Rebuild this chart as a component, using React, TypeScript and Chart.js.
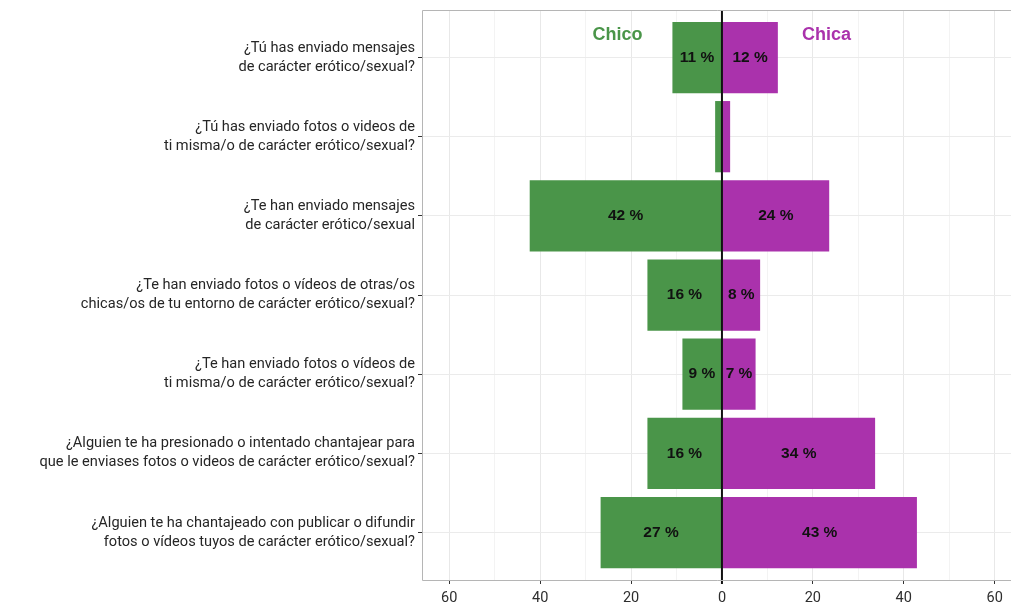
import React, { useEffect, useRef } from "react";
import { Chart, registerables } from "chart.js";

Chart.register(...registerables);

const categories: string[][] = [
  ["¿Tú has enviado mensajes", "de carácter erótico/sexual?"],
  ["¿Tú has enviado fotos o videos de", "ti misma/o de carácter erótico/sexual?"],
  ["¿Te han enviado mensajes", "de carácter erótico/sexual"],
  ["¿Te han enviado fotos o vídeos de otras/os", "chicas/os de tu entorno de carácter erótico/sexual?"],
  ["¿Te han enviado fotos o vídeos de", "ti misma/o de carácter erótico/sexual?"],
  ["¿Alguien te ha presionado o intentado chantajear para", "que le enviases fotos o videos de carácter erótico/sexual?"],
  ["¿Alguien te ha chantajeado con publicar o difundir", "fotos o vídeos tuyos de carácter erótico/sexual?"],
];

const chico: number[] = [10.9, 1.5, 42.3, 16.4, 8.7, 16.4, 26.7];
const chica: number[] = [12.3, 1.8, 23.6, 8.4, 7.4, 33.7, 42.9];

const xTicks: number[] = [-60, -50, -40, -30, -20, -10, 0, 10, 20, 30, 40, 50, 60];

const GREEN = "#4a9549";
const MAGENTA = "#aa32ac";

const labelPlugin = {
  id: "extras",
  afterDatasetsDraw(chart: any) {
    const { ctx, chartArea, scales } = chart;
    const xs = scales.x;
    const ys = scales.y;
    ctx.save();
    ctx.font = "bold 15.5px 'Liberation Sans', Arial, sans-serif";
    ctx.fillStyle = "#111";
    ctx.textAlign = "center";
    ctx.textBaseline = "middle";
    chart.data.datasets.forEach((ds: any, di: number) => {
      const meta = chart.getDatasetMeta(di);
      meta.data.forEach((bar: any, i: number) => {
        const v = Math.abs(ds.data[i].x);
        if (v < 3) return;
        const cx = (bar.x + bar.base) / 2;
        ctx.fillText(Math.round(v) + " %", cx, bar.y);
      });
    });
    ctx.font = "bold 18px 'Liberation Sans', Arial, sans-serif";
    ctx.fillStyle = GREEN;
    ctx.fillText("Chico", xs.getPixelForValue(-23), ys.getPixelForValue(-0.28));
    ctx.fillStyle = MAGENTA;
    ctx.fillText("Chica", xs.getPixelForValue(23), ys.getPixelForValue(-0.28));
    const x0 = xs.getPixelForValue(0);
    ctx.strokeStyle = "#111";
    ctx.lineWidth = 2;
    ctx.beginPath();
    ctx.moveTo(x0, chartArea.top);
    ctx.lineTo(x0, chartArea.bottom + 4);
    ctx.stroke();
    ctx.strokeStyle = "#b5b5b5";
    ctx.lineWidth = 1;
    ctx.beginPath();
    ctx.moveTo(chartArea.right + 2, chartArea.top + 0.5);
    ctx.lineTo(chartArea.left + 0.5, chartArea.top + 0.5);
    ctx.lineTo(chartArea.left + 0.5, chartArea.bottom + 0.5);
    ctx.lineTo(chartArea.right + 2, chartArea.bottom + 0.5);
    ctx.stroke();
    ctx.restore();
  },
};

export default function App() {
  const ref = useRef<HTMLCanvasElement | null>(null);
  useEffect(() => {
    if (!ref.current) return;
    const chart = new Chart(ref.current, {
      type: "bar",
      data: {
        datasets: [
          {
            label: "Chico",
            data: chico.map((v, i) => ({ x: -v, y: i })),
            backgroundColor: GREEN,
            borderWidth: 0,
          },
          {
            label: "Chica",
            data: chica.map((v, i) => ({ x: v, y: i })),
            backgroundColor: MAGENTA,
            borderWidth: 0,
          },
        ],
      },
      options: {
        indexAxis: "y",
        animation: false,
        responsive: true,
        maintainAspectRatio: false,
        layout: { padding: { top: 10, right: 0, bottom: 0, left: 0 } },
        datasets: { bar: { barPercentage: 0.9, categoryPercentage: 1 } },
        plugins: { legend: { display: false }, tooltip: { enabled: false } },
        scales: {
          x: {
            type: "linear",
            min: -66,
            max: 63.6,
            stacked: true,
            afterBuildTicks: (s: any) => {
              s.ticks = xTicks.map((v) => ({ value: v }));
            },
            afterFit: (s: any) => {
              s.height = 26;
            },
            border: { display: false },
            grid: {
              color: (c: any) => (c.tick && c.tick.value % 20 === 0 ? "#e8e8e8" : "#f3f3f3"),
              lineWidth: 1,
              tickLength: 4,
              tickColor: (c: any) => (c.tick && c.tick.value % 20 === 0 ? "#333" : "rgba(0,0,0,0)"),
            },
            ticks: {
              autoSkip: false,
              maxRotation: 0,
              padding: 6,
              color: "#2e2e2e",
              font: { family: "Roboto", size: 14.5 },
              callback: (v: any) => (Number(v) % 20 === 0 ? String(Math.abs(Number(v))) : ""),
            },
          },
          y: {
            type: "linear",
            min: -0.6,
            max: 6.6,
            reverse: true,
            stacked: true,
            offset: false,
            afterBuildTicks: (s: any) => {
              s.ticks = categories.map((_, i) => ({ value: i }));
            },
            afterFit: (s: any) => {
              s.width = 422;
              s.paddingTop = 0;
              s.paddingBottom = 0;
            },
            border: { display: false },
            grid: {
              offset: false,
              color: "#ebebeb",
              lineWidth: 1,
              tickLength: 4,
              tickColor: "#333",
            },
            ticks: {
              autoSkip: false,
              padding: 3,
              color: "#262626",
              font: { family: "Roboto", size: 14.6, lineHeight: 1.3 },
              callback: (v: any) => categories[Number(v)] ?? "",
            },
          },
        },
      },
      plugins: [labelPlugin],
    } as any);
    return () => chart.destroy();
  }, []);
  return (
    <div style={{ position: "fixed", left: 0, top: 0, width: 1011, height: 606, background: "#fff" }}>
      <canvas ref={ref} />
    </div>
  );
}
